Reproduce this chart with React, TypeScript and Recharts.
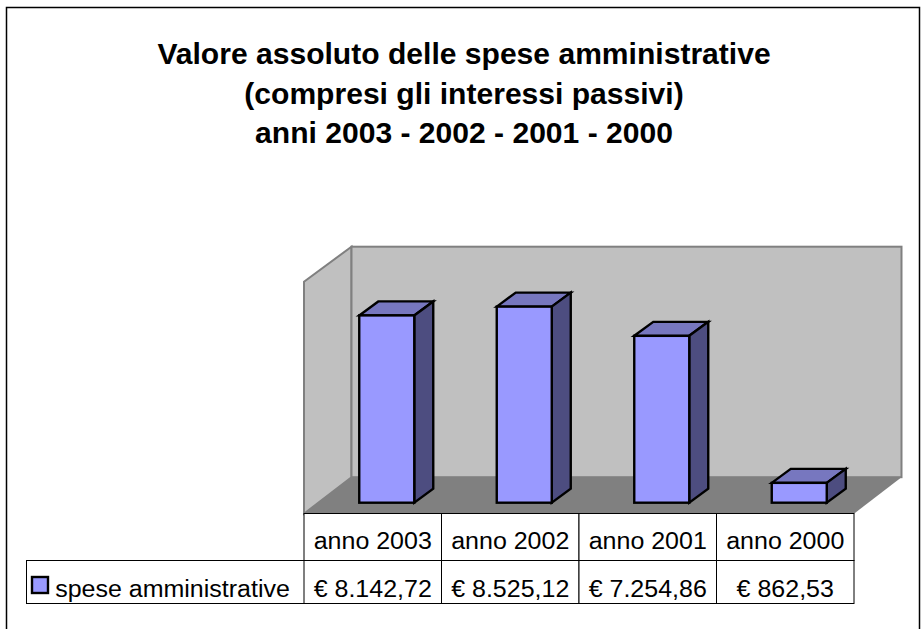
import React from "react";
import { BarChart, Bar, XAxis, YAxis, ReferenceArea } from "recharts";

const categories = ["anno 2003", "anno 2002", "anno 2001", "anno 2000"];
const seriesValues = [8142.72, 8525.12, 7254.86, 862.53];
const valueLabels = ["€ 8.142,72", "€ 8.525,12", "€ 7.254,86", "€ 862,53"];
const seriesName = "spese amministrative";
const titleLines = [
  "Valore assoluto delle spese amministrative",
  "(compresi gli interessi passivi)",
  "anni 2003 - 2002 - 2001 - 2000",
];

const data = categories.map((name, i) => ({ name, value: seriesValues[i] }));

const FONT = "'Liberation Sans', Arial, sans-serif";

// the original picture is a little stretched sideways
const StretchedText = ({ x, y, size, bold, stretch = 1.064, children }: any) => (
  <text
    transform={`translate(${x},${y}) scale(${stretch},1)`}
    textAnchor="middle"
    fontFamily={FONT}
    fontSize={size}
    fontWeight={bold ? 700 : 400}
    fill="#000"
  >
    {children}
  </text>
);

const Bar3D = ({ x, y, width, height }: any) => {
  const dx = 19;
  const dy = 14;
  const r = x + width;
  const b = y + height;
  const line = { stroke: "#000", strokeWidth: 2.4, strokeLinejoin: "miter" as const };
  return (
    <g>
      <polygon points={`${x},${y} ${x + dx},${y - dy} ${r + dx},${y - dy} ${r},${y}`} fill="#7777BF" {...line} />
      <polygon points={`${r},${y} ${r + dx},${y - dy} ${r + dx},${b - dy} ${r},${b}`} fill="#4D4D80" {...line} />
      <rect x={x} y={y} width={width} height={height} fill="#9999FF" {...line} />
    </g>
  );
};

// walls and floor hang off the plot rectangle
const Walls = ({ x, y, width, height }: any) => {
  const front = x - 14;
  const back = x + 33.5;
  const bottom = y + height + 11;
  const backBottom = y + height - 25.5;
  const backTop = y - 26;
  const right = x + width - 14;
  return (
    <g>
      <polygon
        points={`${front},${bottom} ${back},${backBottom} ${back},${backTop} ${front},${y + 9}`}
        fill="#C0C0C0"
        stroke="#808080"
        strokeWidth={2}
      />
      <rect x={back} y={backTop} width={right + 47.5 - back} height={backBottom - backTop} fill="#C0C0C0" stroke="#808080" strokeWidth={2} />
      <polygon
        points={`${front},${bottom} ${back},${backBottom} ${right + 47.5},${backBottom} ${right},${bottom}`}
        fill="#808080"
      />
    </g>
  );
};

// one table column per category, sitting under the floor
const TableTick = ({ x, payload }: any) => {
  const colW = 137.5;
  const left = x - 14 - colW / 2;
  const center = x - 14;
  const top = 513.5;
  const mid = 560.5;
  const end = 603.5;
  return (
    <g>
      <rect x={left} y={top} width={colW} height={mid - top} fill="#fff" stroke="#000" strokeWidth={1} />
      <rect x={left} y={mid} width={colW} height={end - mid} fill="#fff" stroke="#000" strokeWidth={1} />
      <StretchedText x={center} y={549} size={23.5}>{payload.value}</StretchedText>
      <StretchedText x={center} y={597} size={23.5}>{valueLabels[payload.index]}</StretchedText>
    </g>
  );
};

export default function App() {
  return (
    <div style={{ position: "absolute", left: 0, top: 0, width: 921, height: 629, overflow: "hidden", background: "#fff" }}>
      <BarChart
        width={921}
        height={629}
        data={data}
        margin={{ top: 272.7, right: 53, bottom: 96.3, left: 318 }}
        barCategoryGap="30%"
      >
        <rect x={6.5} y={7.5} width={913} height={640} fill="#fff" stroke="#000" strokeWidth={1.5} />
        {titleLines.map((line, i) => (
          <StretchedText key={line} x={464} y={64 + i * 39.6} size={29} stretch={1.037} bold>
            {line}
          </StretchedText>
        ))}
        <rect x={26.5} y={560.5} width={278} height={43} fill="#fff" stroke="#000" strokeWidth={1} />
        <rect x={32} y={577} width={16} height={16} fill="#9999FF" stroke="#000" strokeWidth={2.4} />
        <StretchedText x={172.5} y={597} size={23.5}>{seriesName}</StretchedText>
        <XAxis dataKey="name" axisLine={false} tickLine={false} interval={0} height={30} tick={<TableTick />} />
        <YAxis hide domain={[0, 10000]} />
        <ReferenceArea y1={0} y2={10000} shape={<Walls />} />
        <Bar dataKey="value" name={seriesName} shape={<Bar3D />} isAnimationActive={false} />
      </BarChart>
    </div>
  );
}
